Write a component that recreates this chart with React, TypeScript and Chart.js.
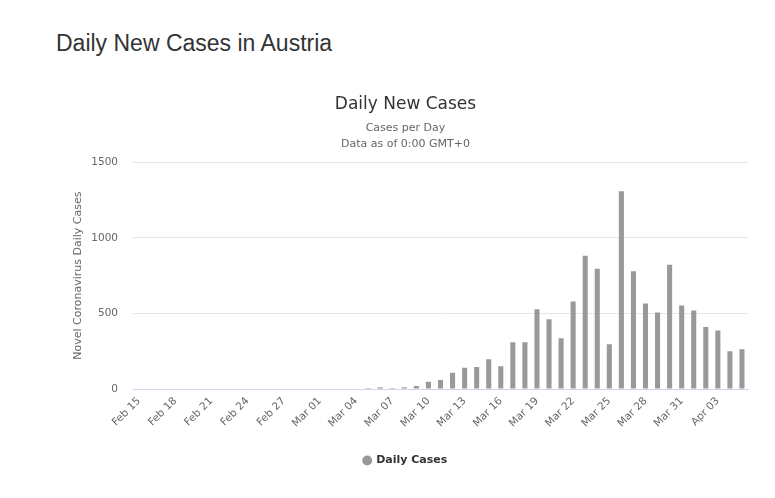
import { useEffect, useRef } from 'react';
import { Chart, registerables } from 'chart.js';

Chart.register(...registerables);

// Feb 15 – Apr 05 2020 (leap year, so Feb 29 is in)
const dates = [
	'Feb 15', 'Feb 16', 'Feb 17', 'Feb 18', 'Feb 19', 'Feb 20', 'Feb 21',
	'Feb 22', 'Feb 23', 'Feb 24', 'Feb 25', 'Feb 26', 'Feb 27', 'Feb 28',
	'Feb 29', 'Mar 01', 'Mar 02', 'Mar 03', 'Mar 04', 'Mar 05', 'Mar 06',
	'Mar 07', 'Mar 08', 'Mar 09', 'Mar 10', 'Mar 11', 'Mar 12', 'Mar 13',
	'Mar 14', 'Mar 15', 'Mar 16', 'Mar 17', 'Mar 18', 'Mar 19', 'Mar 20',
	'Mar 21', 'Mar 22', 'Mar 23', 'Mar 24', 'Mar 25', 'Mar 26', 'Mar 27',
	'Mar 28', 'Mar 29', 'Mar 30', 'Mar 31', 'Apr 01', 'Apr 02', 'Apr 03',
	'Apr 04', 'Apr 05',
];

const dailyCases = [
	0, 0, 0, 0, 0, 0, 0,
	0, 0, 0, 0, 0, 0, 0,
	0, 0, 0, 0, 0, 6, 12,
	6, 12, 20, 48, 59, 107, 140,
	145, 197, 151, 309, 309, 528, 461,
	336, 579, 882, 796, 296, 1309, 779,
	566, 507, 822, 553, 520, 410, 388,
	250, 263,
];

const yTicks = [0, 500, 1000, 1500];

const FONT = '"DejaVu Sans", sans-serif';

export default function App() {
	const canvasRef = useRef(null);

	useEffect(() => {
		if (!canvasRef.current) return;

		const chart = new Chart(canvasRef.current, {
			type: 'bar',
			data: {
				labels: dates,
				datasets: [
					{
						label: 'Daily Cases',
						data: dailyCases,
						backgroundColor: '#999999',
						borderWidth: 0,
						categoryPercentage: 1,
						barPercentage: 0.42,
					},
				],
			},
			options: {
				animation: false,
				responsive: false,
				maintainAspectRatio: false,
				layout: {
					padding: { left: 55, right: 19, top: 0, bottom: 12 },
				},
				plugins: {
					title: {
						display: true,
						text: 'Daily New Cases',
						color: '#333333',
						font: { family: FONT, size: 17, weight: 'normal' },
						padding: { top: 16, bottom: 6 },
					},
					subtitle: {
						display: true,
						text: ['Cases per Day', 'Data as of 0:00 GMT+0'],
						color: '#666666',
						font: { family: FONT, size: 11, lineHeight: 16 / 11 },
						padding: { top: 0, bottom: 10 },
					},
					legend: {
						position: 'bottom',
						labels: {
							usePointStyle: true,
							pointStyle: 'circle',
							boxWidth: 7,
							boxHeight: 7,
							padding: 10,
							color: '#333333',
							font: { family: FONT, size: 11, weight: 'bold' },
						},
					},
					tooltip: { enabled: false },
				},
				scales: {
					x: {
						grid: { display: false, drawTicks: false },
						border: { display: true, color: '#ccd6eb' },
						ticks: {
							autoSkip: false,
							minRotation: 45,
							maxRotation: 45,
							padding: 6,
							color: '#666666',
							font: { family: FONT, size: 10.5 },
							callback: (value, index) => (index % 3 === 0 ? dates[index] : ''),
						},
						afterFit: (scale) => {
							scale.height = 56;
						},
					},
					y: {
						min: yTicks[0],
						max: yTicks[yTicks.length - 1],
						grid: {
							drawTicks: false,
							color: (ctx) => (ctx.tick && ctx.tick.value === 0 ? '#ccd6eb' : '#e6e6e6'),
						},
						border: { display: false },
						ticks: {
							stepSize: 500,
							padding: 15,
							color: '#666666',
							font: { family: FONT, size: 10.5 },
							callback: (value) => String(value),
						},
						title: {
							display: true,
							text: 'Novel Coronavirus Daily Cases',
							color: '#666666',
							font: { family: FONT, size: 11 },
							padding: { top: 9, bottom: 0 },
						},
						afterFit: (scale) => {
							scale.width = 70;
						},
					},
				},
			},
		});

		return () => chart.destroy();
	}, []);

	return (
		<div style={{ position: 'relative', width: 759, height: 482 }}>
			<div
				style={{
					position: 'absolute',
					left: 48,
					top: 21,
					fontFamily: '"Liberation Sans", Arial, sans-serif',
					fontSize: 23,
					lineHeight: '28px',
					color: '#333333',
				}}
			>
				Daily New Cases in Austria
			</div>
			<canvas
				ref={canvasRef}
				width={759}
				height={410}
				style={{ position: 'absolute', left: 0, top: 70, width: 759, height: 410 }}
			/>
		</div>
	);
}
